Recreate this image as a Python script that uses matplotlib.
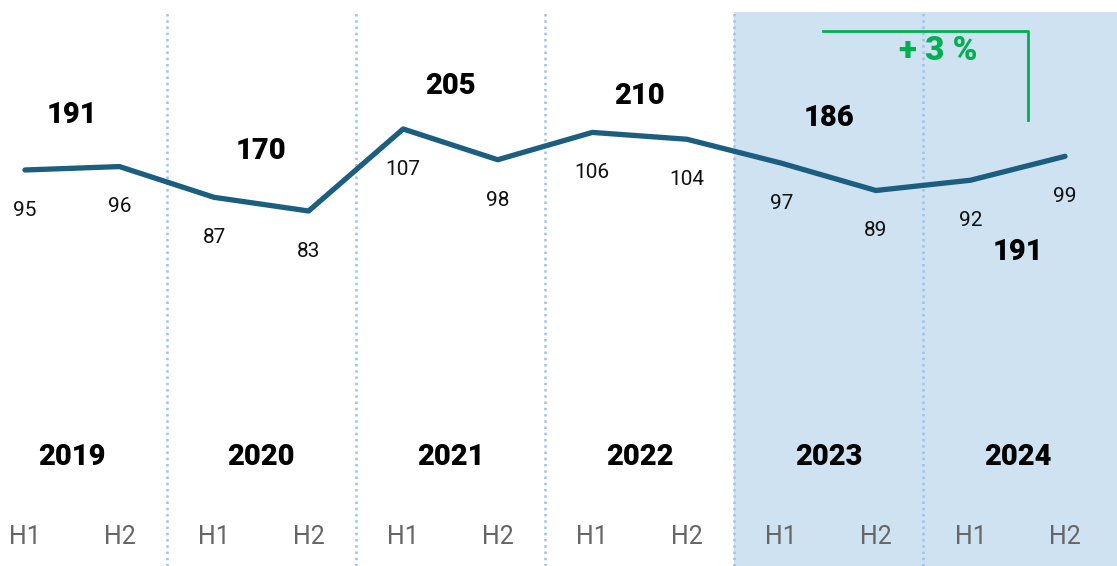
import matplotlib.pyplot as plt
from matplotlib.transforms import blended_transform_factory

# data
years = ['2019', '2020', '2021', '2022', '2023', '2024']
halves = ['H1', 'H2']
values = [95, 96, 87, 83, 107, 98, 106, 104, 97, 89, 92, 99]
totals = [191, 170, 205, 210, 186, 191]
growth_label = '+ 3 %'

# styling
line_col = '#1B5E80'
shade_col = '#CFE2F2'
sep_col = '#9DC3E6'
green = '#00B050'
plt.rcParams['font.family'] = ['Roboto', 'DejaVu Sans']

fig = plt.figure(figsize=(11.17, 5.66), dpi=100)
ax = fig.add_axes([0, 0, 1, 1])
ax.set_xlim(-0.264, 11.55)
ax.set_ylim(-20.9, 144.75)
ax.axis('off')

top = 1 - 12 / 566
ax.axvspan(7.5, 11.6, ymin=0, ymax=top, color=shade_col, lw=0, zorder=0)
for i in range(1, len(years)):
    ax.axvline(2 * i - 0.5, ymin=0, ymax=top, color=sep_col, lw=1.8,
               linestyle=(0, (1, 1.5)), zorder=1)

xs = list(range(len(values)))
ax.plot(xs, values, color=line_col, lw=3.8, solid_capstyle='round',
        solid_joinstyle='round', zorder=3)

# half-year value labels below points
for x, v in zip(xs, values):
    ax.annotate(str(v), (x, v), xytext=(0, -29), textcoords='offset points',
                ha='center', va='center', fontsize=15, color='#111111')

# yearly totals
total_offsets = [38.5, 38.5, 42, 28.5, 42, -60]
bt = blended_transform_factory(ax.transData, ax.transAxes)
for i, (yr, t) in enumerate(zip(years, totals)):
    xm = 2 * i + 0.5
    ym = (values[2 * i] + values[2 * i + 1]) / 2
    ax.annotate(str(t), (xm, ym), xytext=(0, total_offsets[i]),
                textcoords='offset points', ha='center', va='center',
                fontsize=21, fontweight='black', color='black')
    ax.text(xm, 1 - 457 / 566, yr, transform=bt, ha='center', va='center',
            fontsize=21, fontweight='black', color='black')
    for j, h in enumerate(halves):
        ax.text(2 * i + j, 1 - 537 / 566, h, transform=bt, ha='center',
                va='center', fontsize=18, color='#666666')

# growth bracket
ax.plot([823 / 1117, 1028 / 1117, 1028 / 1117],
        [1 - 31 / 566, 1 - 31 / 566, 1 - 120 / 566],
        transform=ax.transAxes, color=green, lw=2, zorder=4)
ax.text(938 / 1117, 1 - 51 / 566, growth_label, transform=ax.transAxes,
        ha='center', va='center', fontsize=24, fontweight='black', color=green)

fig.savefig('out.png', dpi=100)
